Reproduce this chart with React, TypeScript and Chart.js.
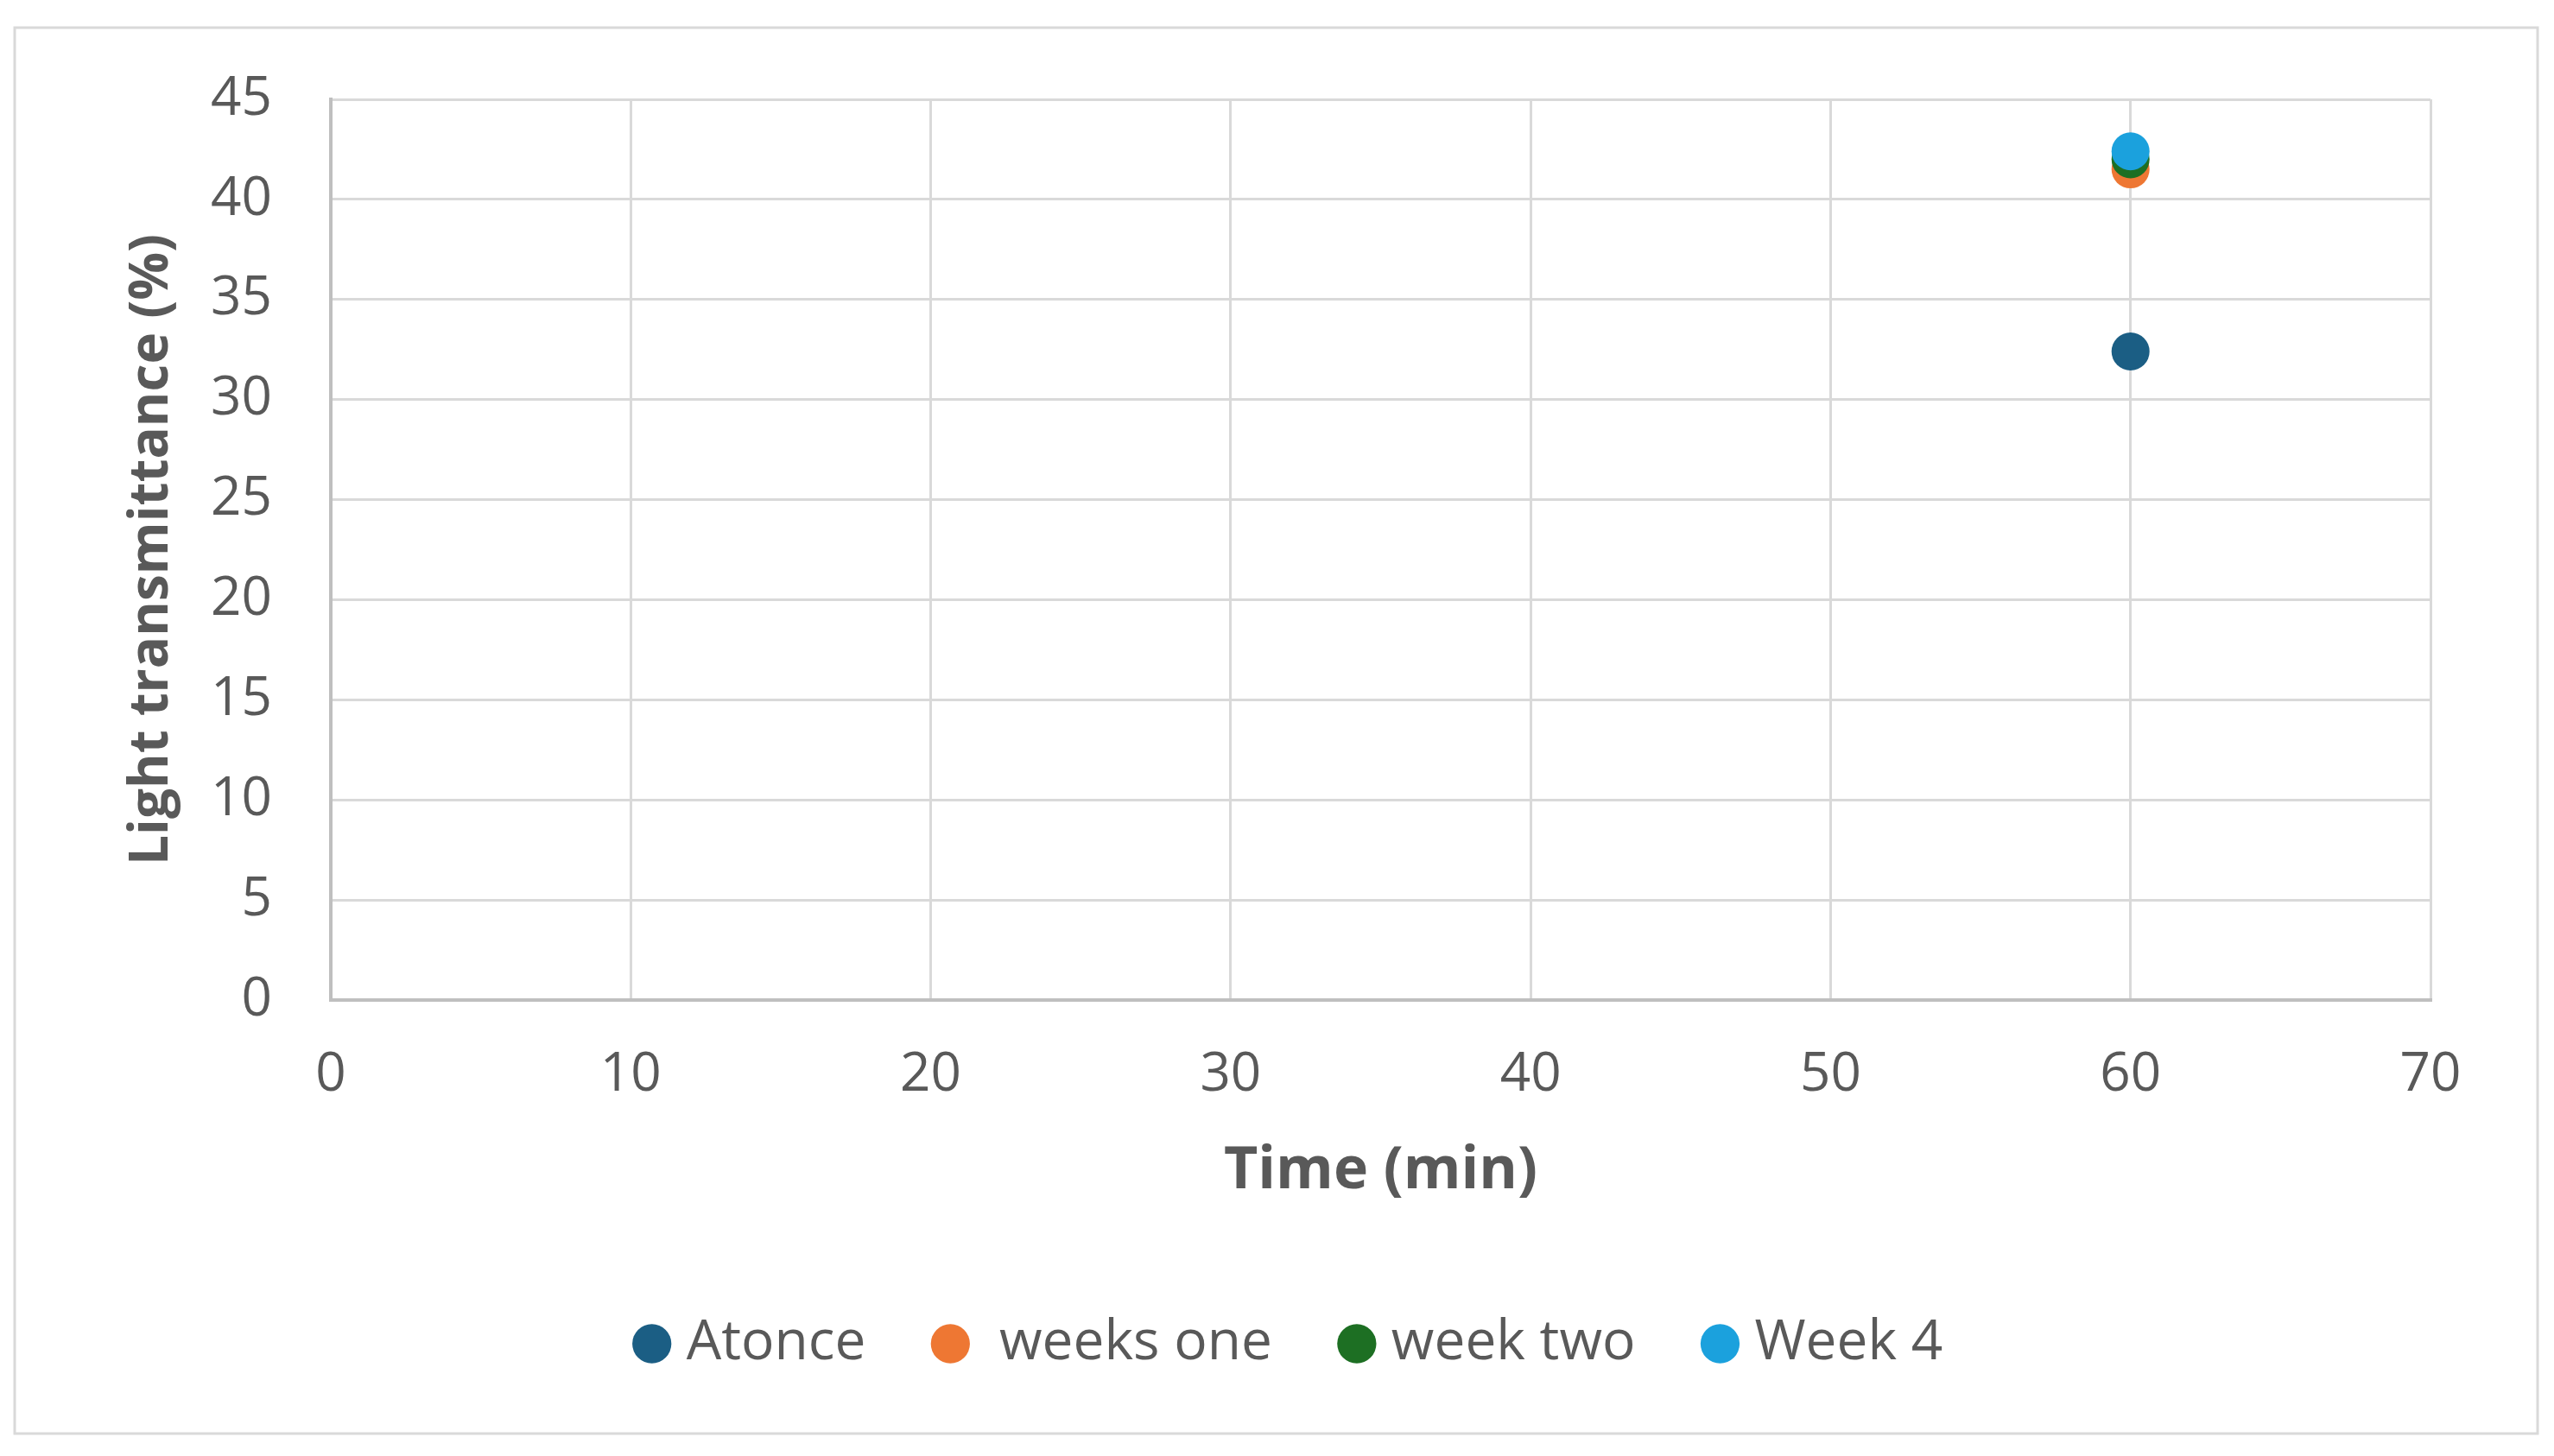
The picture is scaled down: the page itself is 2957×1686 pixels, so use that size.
import React, { useEffect, useRef } from "react";
import { Chart, registerables } from "chart.js";

Chart.register(...registerables);

const timeValues = [60];
const atonce = [32.4];
const weeksOne = [41.5];
const weekTwo = [42.0];
const week4 = [42.4];

const seriesNames = ["Atonce", " weeks one", "week two", "Week 4"];
const seriesColors = ["#1B5E84", "#EE7733", "#1D6F23", "#1BA1DD"];
const seriesValues = [atonce, weeksOne, weekTwo, week4];

const xTitle = "Time (min)";
const yTitle = "Light transmittance (%)";

const W = 2957;
const H = 1686;

const frame = {
  id: "frame",
  beforeDraw(chart: any) {
    const ctx = chart.ctx;
    ctx.save();
    ctx.fillStyle = "#ffffff";
    ctx.fillRect(0, 0, W, H);
    ctx.strokeStyle = "#d9d9d9";
    ctx.lineWidth = 3;
    ctx.strokeRect(17, 32, 2921, 1628);
    ctx.restore();
  },
};

export default function App() {
  const ref = useRef<HTMLCanvasElement>(null);

  useEffect(() => {
    if (!ref.current) return;
    const datasets = seriesNames.map((name, s) => ({
      label: name,
      data: timeValues.map((x, i) => ({ x, y: seriesValues[s][i] })),
      backgroundColor: seriesColors[s],
      borderColor: seriesColors[s],
      borderWidth: 0,
      pointRadius: 22,
      pointHoverRadius: 22,
      pointStyle: "circle",
      order: seriesNames.length - s,
    }));

    const chart = new Chart(ref.current, {
      type: "scatter",
      data: { datasets },
      plugins: [frame],
      options: {
        animation: false,
        responsive: false,
        devicePixelRatio: 1,
        font: { family: "'Open Sans', sans-serif" },
        layout: { padding: { left: 56, right: 17, top: 115, bottom: 88 } },
        plugins: {
          tooltip: { enabled: false },
          legend: {
            position: "bottom",
            labels: {
              usePointStyle: true,
              pointStyle: "circle",
              boxWidth: 16,
              boxHeight: 32,
              padding: 90,
              color: "#595959",
              font: { family: "'Open Sans', sans-serif", size: 64 },
              sort: (a: any, b: any) => a.datasetIndex - b.datasetIndex,
            },
          },
        },
        scales: {
          x: {
            type: "linear",
            position: "bottom",
            min: 0,
            max: 70,
            ticks: {
              stepSize: 10,
              padding: 50,
              color: "#595959",
              font: { family: "'Open Sans', sans-serif", size: 62 },
            },
            grid: { color: "#d9d9d9", lineWidth: 3, drawTicks: false },
            border: { color: "#bfbfbf", width: 4 },
            title: {
              display: true,
              text: xTitle,
              color: "#595959",
              font: { family: "'Open Sans', sans-serif", size: 68, weight: "bold" },
              padding: { top: 0, bottom: 37 },
            },
            afterFit: (scale: any) => {
              scale.height = 276;
            },
          },
          y: {
            type: "linear",
            position: "left",
            min: 0,
            max: 45,
            ticks: {
              stepSize: 5,
              padding: 68,
              color: "#595959",
              font: { family: "'Open Sans', sans-serif", size: 62 },
            },
            grid: { color: "#d9d9d9", lineWidth: 3, drawTicks: false },
            border: { color: "#bfbfbf", width: 4 },
            title: {
              display: true,
              text: yTitle,
              color: "#595959",
              font: { family: "'Open Sans', sans-serif", size: 62, weight: "bold" },
              padding: { top: 83, bottom: 0 },
            },
            afterFit: (scale: any) => {
              scale.width = 327;
            },
          },
          yRight: {
            type: "linear",
            position: "right",
            min: 0,
            max: 1,
            display: true,
            ticks: { display: false },
            grid: { display: false, drawTicks: false },
            border: { display: false },
            afterFit: (scale: any) => {
              scale.width = 126;
            },
          },
        },
      } as any,
    });
    return () => chart.destroy();
  }, []);

  return (
    <div style={{ position: "fixed", left: 0, top: 0, width: W, height: H, background: "#fff" }}>
      <canvas ref={ref} width={W} height={H} style={{ width: W, height: H, display: "block" }} />
    </div>
  );
}
